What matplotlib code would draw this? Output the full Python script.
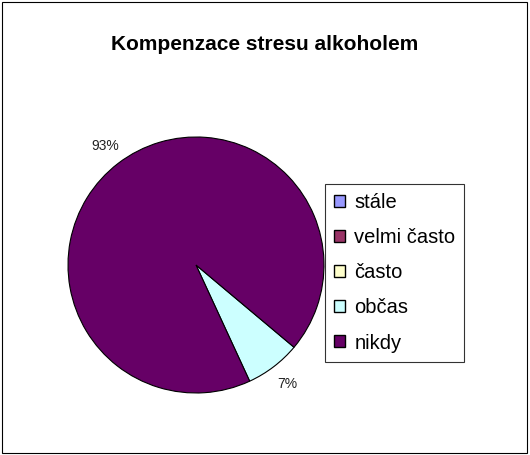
import matplotlib.pyplot as plt
from matplotlib.patches import Rectangle

plt.rcParams['font.family'] = ['Liberation Sans', 'DejaVu Sans']

categories = ['stále', 'velmi často', 'často', 'občas', 'nikdy']
values = [0, 0, 0, 7, 93]
colors = ['#9999FF', '#993366', '#FFFFCC', '#CCFFFF', '#660066']
title = 'Kompenzace stresu alkoholem'

fig = plt.figure(figsize=(5.3, 4.55), dpi=100)

# chart frame
fig.patches.append(Rectangle((0.004, 0.005), 0.99, 0.99, transform=fig.transFigure,
                             fill=False, edgecolor='black', linewidth=0.8))

fig.text(0.5, 1 - 45 / 455, title, ha='center', va='center',
         fontsize=15, fontweight='bold')

ax = fig.add_axes([0.1283, 0.1363, 0.483, 0.5626])
labels = [f'{v}%' if v > 0 else '' for v in values]
wedges, texts = ax.pie(values, colors=colors, startangle=-40, counterclock=False,
                       labels=labels, labeldistance=1.17,
                       wedgeprops=dict(edgecolor='black', linewidth=0.8),
                       textprops=dict(fontsize=10, color='#222222'))
for t in texts:
    t.set_ha('center')
    t.set_va('center')
ax.set_xlim(-1, 1)
ax.set_ylim(-1, 1)
ax.set_aspect('equal')

leg = fig.legend(wedges, categories, loc='upper left',
                 bbox_to_anchor=(325 / 530, 1 - 184 / 455),
                 fontsize=14.5, frameon=True, fancybox=False,
                 handlelength=0.55, handleheight=0.55, handletextpad=0.45,
                 labelspacing=0.8, borderpad=0.45, borderaxespad=0)
leg.get_frame().set_edgecolor('black')
leg.get_frame().set_linewidth(0.8)
for h in leg.legend_handles:
    h.set_edgecolor('black')
    h.set_linewidth(1.0)

fig.savefig('out.png', dpi=100)
